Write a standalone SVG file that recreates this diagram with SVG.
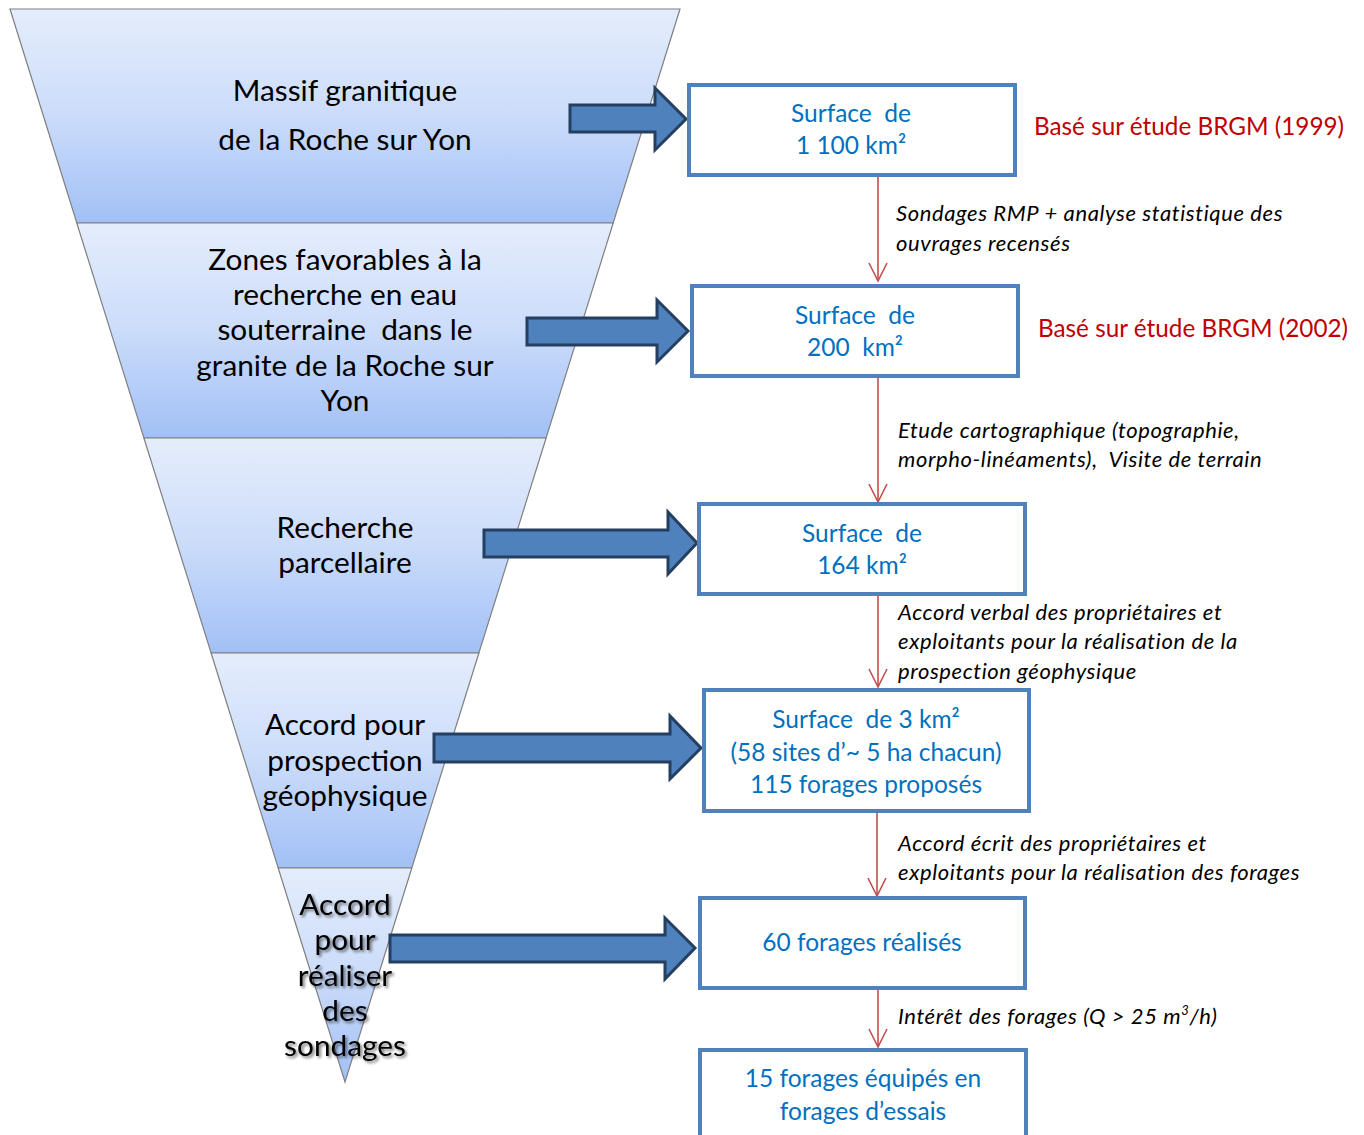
<svg xmlns="http://www.w3.org/2000/svg" width="1364" height="1135" viewBox="0 0 1364 1135">
<defs>
<linearGradient id="seg" x1="0" y1="0" x2="0" y2="1">
<stop offset="0" stop-color="#e5edfc"/>
<stop offset="0.5" stop-color="#cbdcfa"/>
<stop offset="1" stop-color="#a2c0f6"/>
</linearGradient>
<marker id="vhead" markerUnits="userSpaceOnUse" markerWidth="22" markerHeight="22" viewBox="-20 -11 22 22" refX="0" refY="0" orient="auto">
<path d="M-18,-9 L0,0 L-18,9" fill="none" stroke="#c0504d" stroke-width="1.6"/>
</marker>
<filter id="shadow" x="-20%" y="-20%" width="140%" height="140%">
<feGaussianBlur in="SourceAlpha" stdDeviation="1.6"/>
<feOffset dx="1.5" dy="1.8" result="b"/>
<feComponentTransfer><feFuncA type="linear" slope="0.55"/></feComponentTransfer>
<feMerge><feMergeNode/><feMergeNode in="SourceGraphic"/></feMerge>
</filter>
</defs>
<style>
.seg{fill:url(#seg);stroke:#7f7f7f;stroke-width:1.2}
.ftxt{font-family:Lato,"Liberation Sans",sans-serif;font-size:29.8px;fill:#000;text-anchor:middle}
.fat{fill:#4f81bd;stroke:#243f60;stroke-width:3;stroke-linejoin:miter}
.box{fill:#fff;stroke:#4f81bd;stroke-width:4}
.btxt{font-family:Lato,"Liberation Sans",sans-serif;font-size:24.5px;fill:#0070c0;text-anchor:middle}
.red{font-family:Lato,"Liberation Sans",sans-serif;font-size:24.3px;fill:#c00000}
.lbl{font-family:Lato,"Liberation Sans",sans-serif;font-size:22px;letter-spacing:0.6px;font-style:italic;fill:#000}
.conn{stroke:#c0504d;stroke-width:1.6;fill:none;marker-end:url(#vhead)}
</style>
<rect width="1364" height="1135" fill="#fff"/>

<g id="funnel">
<g id="level1">
<polygon class="seg" points="10,9 680,9 613.2,223 76.8,223"/>
<text class="ftxt" x="345" y="101">Massif granitique</text>
<text class="ftxt" x="345" y="150">de la Roche sur Yon</text>
</g>
<g id="level2">
<polygon class="seg" points="76.8,223 613.2,223 546.1,438 143.9,438"/>
<text class="ftxt" x="345" y="270">Zones favorables à la</text>
<text class="ftxt" x="345" y="305">recherche en eau</text>
<text class="ftxt" x="345" y="340" xml:space="preserve">souterraine  dans le</text>
<text class="ftxt" x="345" y="376">granite de la Roche sur</text>
<text class="ftxt" x="345" y="411">Yon</text>
</g>
<g id="level3">
<polygon class="seg" points="143.9,438 546.1,438 478.9,653 211.1,653"/>
<text class="ftxt" x="345" y="538">Recherche</text>
<text class="ftxt" x="345" y="573">parcellaire</text>
</g>
<g id="level4">
<polygon class="seg" points="211.1,653 478.9,653 411.8,868 278.2,868"/>
<text class="ftxt" x="345" y="735">Accord pour</text>
<text class="ftxt" x="345" y="771">prospection</text>
<text class="ftxt" x="345" y="806">géophysique</text>
</g>
<g id="level5">
<polygon class="seg" points="278.2,868 411.8,868 345,1082"/>
<g filter="url(#shadow)">
<text class="ftxt" x="345" y="915">Accord</text>
<text class="ftxt" x="345" y="950">pour</text>
<text class="ftxt" x="345" y="986">réaliser</text>
<text class="ftxt" x="345" y="1021">des</text>
<text class="ftxt" x="345" y="1056">sondages</text>
</g>
</g>
</g>

<g id="fat-arrows">
<polygon class="fat" points="570,105 655,105 655,88 686,119 655,150 655,132 570,132"/>
<polygon class="fat" points="527,318 657,318 657,300 688,331 657,362 657,345 527,345"/>
<polygon class="fat" points="484,530 668,530 668,512 697,543 668,574 668,557 484,557"/>
<polygon class="fat" points="434,734 670,734 670,716 701,748 670,779 670,762 434,762"/>
<polygon class="fat" points="390,935 665,935 665,918 695,948 665,979 665,962 390,962"/>
</g>

<g id="connectors">
<line class="conn" x1="878" y1="177" x2="878" y2="281"/>
<line class="conn" x1="878" y1="378" x2="878" y2="502"/>
<line class="conn" x1="878" y1="596" x2="878" y2="687"/>
<line class="conn" x1="877" y1="813" x2="877" y2="896"/>
<line class="conn" x1="878" y1="990" x2="878" y2="1047"/>
</g>

<g id="box1">
<rect class="box" x="689" y="85" width="326" height="90"/>
<text class="btxt" x="851" y="122" xml:space="preserve">Surface  de</text>
<text class="btxt" x="851" y="154">1 100 km²</text>
</g>
<g id="box2">
<rect class="box" x="692" y="286" width="326" height="90"/>
<text class="btxt" x="855" y="324" xml:space="preserve">Surface  de</text>
<text class="btxt" x="855" y="356" xml:space="preserve">200  km²</text>
</g>
<g id="box3">
<rect class="box" x="699" y="504" width="326" height="90"/>
<text class="btxt" x="862" y="542" xml:space="preserve">Surface  de</text>
<text class="btxt" x="862" y="574">164 km²</text>
</g>
<g id="box4">
<rect class="box" x="704" y="690" width="325" height="121"/>
<text class="btxt" x="866" y="728" xml:space="preserve">Surface  de 3 km²</text>
<text class="btxt" x="866" y="761">(58 sites d’~ 5 ha chacun)</text>
<text class="btxt" x="866" y="793">115 forages proposés</text>
</g>
<g id="box5">
<rect class="box" x="700" y="898" width="325" height="90"/>
<text class="btxt" x="862" y="951">60 forages réalisés</text>
</g>
<g id="box6">
<rect class="box" x="700" y="1050" width="326" height="100"/>
<text class="btxt" x="863" y="1087">15 forages équipés en</text>
<text class="btxt" x="863" y="1120">forages d’essais</text>
</g>

<g id="notes">
<text class="red" x="1034" y="135">Basé sur étude BRGM (1999)</text>
<text class="red" x="1038" y="337">Basé sur étude BRGM (2002)</text>
<text class="lbl" x="896" y="221">Sondages RMP + analyse statistique des</text>
<text class="lbl" x="896" y="251">ouvrages recensés</text>
<text class="lbl" x="898" y="438">Etude cartographique (topographie,</text>
<text class="lbl" x="898" y="467" xml:space="preserve">morpho-linéaments),  Visite de terrain</text>
<text class="lbl" x="898" y="620">Accord verbal des propriétaires et</text>
<text class="lbl" x="898" y="649">exploitants pour la réalisation de la</text>
<text class="lbl" x="898" y="679">prospection géophysique</text>
<text class="lbl" x="898" y="851">Accord écrit des propriétaires et</text>
<text class="lbl" x="898" y="880">exploitants pour la réalisation des forages</text>
<text class="lbl" x="898" y="1024">Intérêt des forages (Q &gt; 25 m<tspan font-size="13" dy="-9">3</tspan><tspan dy="9">/h)</tspan></text>
</g>
</svg>
